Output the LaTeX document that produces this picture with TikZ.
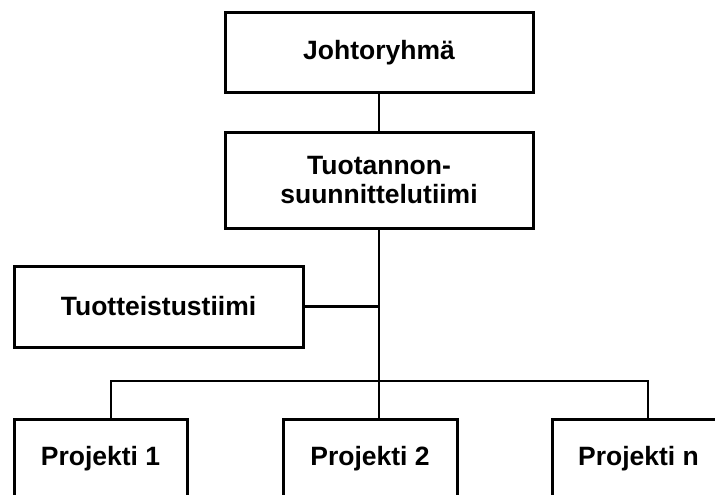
\documentclass[tikz,border=0pt]{standalone}
\usepackage{fontspec}
\setmainfont{Liberation Sans}
\begin{document}
\begin{tikzpicture}[x=1pt,y=-1pt,
  every node/.style={font=\fontsize{26.5}{29}\selectfont\bfseries},
  box/.style={draw,line width=3pt,inner sep=0pt,align=center},
  conn/.style={line width=2.8pt}]
\useasboundingbox (0,0) rectangle (715,495);
\clip (0,0) rectangle (715,495);
\fill[white] (0,0) rectangle (715,495);
\node[box,minimum width=308pt,minimum height=79pt] (jr) at (379,52.5) {Johtoryhmä};
\node[box,minimum width=308pt,minimum height=96pt] (tt) at (379,180) {Tuotannon-\\suunnittelutiimi};
\node[box,minimum width=289pt,minimum height=81pt] (tu) at (158.5,306.5) {Tuotteistustiimi};
\node[box,minimum width=173pt,minimum height=80pt] (p1) at (100.5,459) {Projekti 1};
\node[box,minimum width=174pt,minimum height=80pt] (p2) at (370,459) {Projekti 2};
\node[box,minimum width=173pt,minimum height=80pt] (pn) at (638.5,459) {Projekti n};
\coordinate (bus) at (379,381);
\draw[conn] (jr.south) -- (tt.north);
\draw[conn] (tt.south) -- ([xshift=9pt]p2.north);
\draw[conn] (tu.east) -- (tu.east -| tt.south);
\draw[conn] ([xshift=10.5pt]p1.north) |- (bus) -| ([xshift=9.5pt]pn.north);
\end{tikzpicture}
\end{document}
